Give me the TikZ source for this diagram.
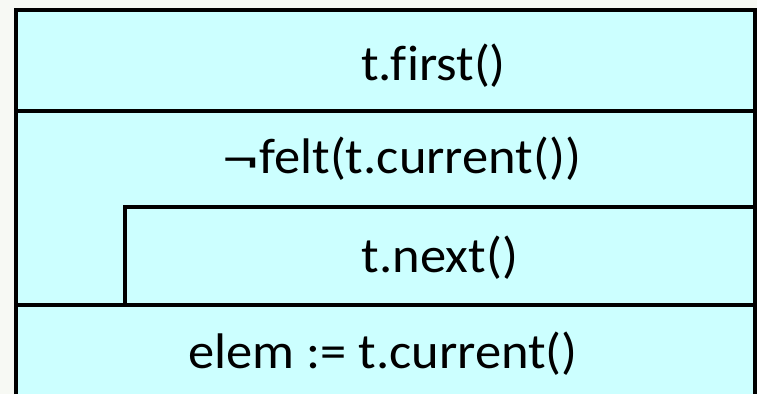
\documentclass[tikz,border=0pt]{standalone}
\usepackage{fontspec}
\setmainfont{Carlito}[Ligatures=NoCommon]
\definecolor{pagebg}{HTML}{F7F9F4}
\definecolor{cellfill}{HTML}{CCFFFF}
\begin{document}
\begin{tikzpicture}[x=1pt,y=-1pt,
  rule/.style={line width=4pt},
  label/.style={anchor=base,inner sep=0pt,font=\fontsize{50}{58}\selectfont}]
  \useasboundingbox (0,0) rectangle (757,394);
  \fill[pagebg] (0,0) rectangle (757,394);
  % structogram body
  \fill[cellfill] (16,10) rectangle (755,394);
  \coordinate (tl) at (16,10);
  \coordinate (tr) at (755,10);
  \coordinate (bl) at (16,394);
  \coordinate (br) at (755,394);
  \coordinate (s1l) at (16,111);
  \coordinate (s1r) at (755,111);
  \coordinate (loopl) at (125,207);
  \coordinate (loopr) at (755,207);
  \coordinate (loopb) at (125,305);
  \coordinate (s3l) at (16,305);
  \coordinate (s3r) at (755,305);
  \draw[rule] (bl) -- (tl) -- (tr) -- (br);
  \draw[rule] (s1l) -- (s1r);
  \draw[rule] (loopb) -- (loopl) -- (loopr);
  \draw[rule] (s3l) -- (s3r);
  % statements
  \newcommand\stretchtext[1]{\scalebox{1.05}[1]{#1}}
  \node[label] (first) at (433.5,80) {\stretchtext{t.first()}};
  \node[label] (cond) at (402,173) {\stretchtext{\raisebox{-2pt}{\scalebox{1.4}[1]{¬}}felt(t.current())}};
  \node[label] (next) at (440,272) {\stretchtext{t.next()}};
  \node[label] (assign) at (383,368) {\stretchtext{elem := t.current()}};
\end{tikzpicture}
\end{document}
